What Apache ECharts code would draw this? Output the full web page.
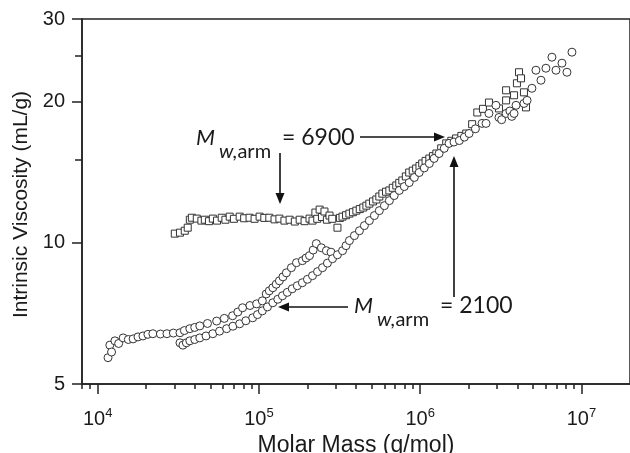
<!DOCTYPE html>
<html><head><meta charset="utf-8">
<script src="https://cdn.jsdelivr.net/npm/echarts@6/dist/echarts.min.js"></script>
<style>html,body{margin:0;padding:0;background:#fff}#c{width:630px;height:453px}</style>
</head><body><div id="c"></div>
<script>
const xMajorTicks = [1e4, 1e5, 1e6, 1e7];
const xMinorTicks = [8e3, 9e3, 2e4, 3e4, 4e4, 5e4, 6e4, 7e4, 8e4, 9e4, 2e5, 3e5, 4e5, 5e5, 6e5, 7e5, 8e5, 9e5,
  2e6, 3e6, 4e6, 5e6, 6e6, 7e6, 8e6, 9e6];
const yMajorTicks = [5, 10, 20, 30];
const yMinorTicks = [15, 25];

// Mw,arm = 2100 (circles)
const arm2100Mass = [1.16e4, 1.19e4, 1.22e4, 1.28e4, 1.35e4, 1.44e4, 1.55e4, 1.66e4, 1.78e4, 1.91e4, 2.05e4, 2.20e4,
  2.45e4, 2.69e4, 2.95e4, 3.24e4, 3.45e4, 3.73e4, 4.0e4, 4.3e4, 4.8e4, 5.47e4, 6.1e4, 6.87e4, 7.4e4, 7.92e4, 8.8e4,
  9.68e4, 1.05e5, 1.11e5, 1.16e5, 1.22e5, 1.28e5, 1.34e5, 1.41e5, 1.48e5, 1.59e5, 1.71e5, 1.86e5, 1.96e5, 2.06e5,
  2.17e5, 2.27e5, 2.44e5, 2.62e5, 2.8e5,
  3.24e4, 3.38e4, 3.55e4, 3.73e4, 4.0e4, 4.3e4, 4.7e4, 5.18e4, 5.7e4, 6.31e4, 6.9e4, 7.6e4, 8.3e4, 9.15e4, 9.8e4,
  1.05e5, 1.13e5, 1.22e5, 1.31e5, 1.40e5, 1.50e5, 1.61e5, 1.73e5, 1.86e5, 2.0e5, 2.15e5, 2.31e5, 2.48e5, 2.66e5,
  2.86e5, 3.07e5, 3.30e5, 3.47e5, 3.64e5, 3.91e5, 4.20e5, 4.51e5, 4.84e5, 5.2e5, 5.58e5, 6.0e5, 6.44e5, 6.9e5,
  7.42e5, 7.97e5, 8.55e5, 9.2e5, 9.86e5, 1.06e6, 1.14e6, 1.22e6, 1.31e6, 1.41e6, 1.51e6, 1.62e6, 1.75e6, 1.88e6,
  2.01e6, 2.2e6, 2.42e6, 2.56e6, 2.67e6, 2.95e6, 3.08e6, 3.2e6, 3.41e6, 3.6e6, 3.7e6, 3.82e6, 3.93e6, 4.4e6, 4.6e6,
  4.93e6, 5.22e6, 5.61e6, 6.02e6, 6.56e6, 6.95e6, 7.57e6, 8.13e6, 8.73e6];
const arm2100Visc = [5.69, 6.05, 5.85, 6.18, 6.10, 6.27, 6.22, 6.24, 6.30, 6.33, 6.38, 6.40,
  6.39, 6.40, 6.42, 6.43, 6.50, 6.56, 6.60, 6.65, 6.73, 6.81, 6.90, 6.99, 7.12, 7.27, 7.35,
  7.41, 7.52, 7.78, 7.90, 8.02, 8.16, 8.30, 8.46, 8.63, 8.85, 9.07, 9.16, 9.28, 9.39,
  9.65, 9.96, 9.76, 9.62, 9.55,
  6.12, 6.05, 6.12, 6.18, 6.22, 6.27, 6.33, 6.40, 6.48, 6.56, 6.64, 6.72, 6.82, 6.92, 7.03,
  7.16, 7.30, 7.45, 7.58, 7.71, 7.84, 7.98, 8.10, 8.22, 8.36, 8.51, 8.68, 8.85, 9.05,
  9.25, 9.43, 9.62, 9.86, 10.11, 10.36, 10.61, 10.88, 11.15, 11.43, 11.71, 12.0, 12.30, 12.61,
  12.93, 13.18, 13.44, 13.78, 14.12, 14.44, 14.76, 15.13, 15.50, 15.90, 16.29, 16.40, 16.52, 16.80,
  17.10, 17.50, 17.97, 17.97, 18.87, 19.64, 18.50, 18.30, 18.87, 19.10, 18.60, 18.87, 19.64, 19.82, 20.12,
  21.35, 23.33, 22.21, 23.56, 24.87, 23.33, 24.15, 23.10, 25.49];

// Mw,arm = 6900 (squares)
const arm6900Mass = [3.01e4, 3.24e4, 3.47e4, 3.62e4, 3.73e4, 3.84e4, 4.12e4, 4.4e4, 4.62e4, 4.9e4, 5.18e4, 5.5e4,
  5.88e4, 6.2e4, 6.59e4, 7.0e4, 7.6e4, 8.1e4, 8.75e4, 9.4e4, 1.01e5, 1.08e5, 1.16e5, 1.25e5, 1.34e5, 1.44e5,
  1.55e5, 1.67e5, 1.79e5, 1.92e5, 2.06e5, 2.15e5, 2.24e5, 2.3e5, 2.38e5, 2.46e5, 2.55e5, 2.64e5, 2.74e5, 2.85e5,
  3.07e5, 3.18e5, 3.30e5, 3.47e5, 3.64e5, 3.83e5, 4.02e5, 4.22e5, 4.44e5, 4.64e5, 4.84e5, 5.1e5, 5.35e5, 5.58e5,
  5.83e5, 6.14e5, 6.44e5, 6.76e5, 7.11e5, 7.42e5, 7.75e5, 8.15e5, 8.55e5, 8.99e5, 9.44e5, 9.9e5, 1.03e6, 1.08e6,
  1.14e6, 1.20e6, 1.26e6, 1.35e6, 1.45e6, 1.56e6, 1.67e6, 1.80e6, 1.93e6, 2.1e6, 2.26e6, 2.45e6, 2.67e6, 3.08e6,
  3.41e6, 3.41e6, 3.82e6, 3.98e6, 4.10e6, 4.22e6, 4.40e6, 4.53e6];
const arm6900Visc = [10.46, 10.51, 10.61, 10.77, 11.20, 11.31, 11.26, 11.15, 11.20, 11.12, 11.26, 11.15,
  11.31, 11.20, 11.37, 11.25, 11.37, 11.28, 11.31, 11.25, 11.37, 11.30, 11.31, 11.22, 11.26, 11.15,
  11.20, 11.10, 11.20, 11.12, 11.26, 11.15, 11.60, 11.25, 11.77, 11.35, 11.66, 11.20, 11.43, 11.25,
  10.77, 11.30, 11.37, 11.45, 11.54, 11.62, 11.71, 11.80, 11.89, 12.0, 12.12, 12.25, 12.37, 12.55,
  12.73, 12.85, 12.93, 13.10, 13.25, 13.42, 13.58, 13.85, 14.12, 14.25, 14.40, 14.58, 14.76, 14.95,
  15.12, 15.30, 15.50, 15.90, 16.29, 16.50, 16.69, 16.90, 17.10, 17.90, 18.96, 19.30, 19.91, 19.34,
  21.14, 20.12, 20.63, 21.88, 23.10, 22.42, 20.93, 19.44];

const zip = (a, b) => a.map((v, i) => [v, b[i]]);

const AX = '#222';
const TXT = '#1a1a1a';
const FONT = '"Liberation Sans", Arial, sans-serif';
const AFONT = 'Lato, "Open Sans", sans-serif';

function arrow(x1, y1, x2, y2) {
  const dx = x2 - x1, dy = y2 - y1, L = Math.hypot(dx, dy), ux = dx / L, uy = dy / L;
  const h = 11, w = 4.5;
  const bx = x2 - ux * h, by = y2 - uy * h;
  return [
    { type: 'line', shape: { x1: x1, y1: y1, x2: bx + ux * 2, y2: by + uy * 2 }, style: { stroke: '#111', lineWidth: 1.6 } },
    { type: 'polygon', shape: { points: [[x2, y2], [bx - uy * w, by + ux * w], [bx + uy * w, by - ux * w]] }, style: { fill: '#111' } }
  ];
}
function label(x, y, value) {
  return [
    { type: 'text', x: x, y: y, style: { text: 'M', font: 'italic 22px ' + AFONT, fill: TXT, textVerticalAlign: 'middle' } },
    { type: 'text', x: x + 23, y: y + 14, style: { text: '{i|w,}{n|arm}', fill: TXT, textVerticalAlign: 'middle',
        rich: { i: { fontFamily: AFONT, fontStyle: 'italic', fontSize: 20, color: TXT }, n: { fontFamily: AFONT, fontSize: 20, color: TXT } } } },
    { type: 'text', x: x + 86, y: y, style: { text: '= ' + value, font: '23px ' + AFONT, fill: TXT, textVerticalAlign: 'middle' } }
  ];
}

const chart = echarts.init(document.getElementById('c'), null, { renderer: 'canvas' });
const xBase = { type: 'log', logBase: 10, min: 8000, max: 2e7, splitLine: { show: false } };
const yBase = { type: 'log', logBase: 10, min: 5, max: 30, splitLine: { show: false } };

chart.setOption({
  animation: false,
  backgroundColor: '#fff',
  grid: { left: 82, right: 0, top: 19, bottom: 69, containLabel: false, outerBoundsMode: 'none',
    show: true, borderColor: AX, borderWidth: 1.5, backgroundColor: 'transparent' },
  xAxis: [
    Object.assign({}, xBase, {
      position: 'bottom',
      name: 'Molar Mass (g/mol)', nameLocation: 'middle', nameGap: 50,
      nameTextStyle: { fontFamily: FONT, fontSize: 23, color: TXT },
      axisLine: { show: true, lineStyle: { color: AX, width: 1.5 } },
      axisTick: { show: true, inside: false, length: 10, customValues: xMajorTicks, lineStyle: { color: AX, width: 1.5 } },
      axisLabel: { show: true, customValues: xMajorTicks, margin: 23,
        formatter: v => '{b|10}{s|' + Math.round(Math.log10(v)) + '}',
        rich: { b: { fontFamily: FONT, fontSize: 20, color: TXT }, s: { fontFamily: FONT, fontSize: 13, color: TXT, padding: [0, 0, 12, 0] } } }
    }),
    Object.assign({}, xBase, {
      position: 'bottom',
      axisLine: { show: false }, axisLabel: { show: false },
      axisTick: { show: true, inside: false, length: 5, customValues: xMinorTicks, lineStyle: { color: AX, width: 1.5 } }
    })
  ],
  yAxis: [
    Object.assign({}, yBase, {
      position: 'left',
      name: 'Intrinsic Viscosity (mL/g)', nameLocation: 'middle', nameGap: 49,
      nameTextStyle: { fontFamily: FONT, fontSize: 21, color: TXT, padding: [0, 0, 0, -6] },
      axisLine: { show: true, lineStyle: { color: AX, width: 1.5 } },
      axisTick: { show: true, inside: false, length: 10, customValues: yMajorTicks, lineStyle: { color: AX, width: 1.5 } },
      axisLabel: { show: true, customValues: yMajorTicks, margin: 17, fontFamily: FONT, fontSize: 20, color: TXT }
    }),
    Object.assign({}, yBase, {
      position: 'left',
      axisLine: { show: false }, axisLabel: { show: false },
      axisTick: { show: true, inside: false, length: 7, customValues: yMinorTicks, lineStyle: { color: AX, width: 1.5 } }
    })
  ],
  series: [
    { name: 'Mw,arm = 6900', type: 'scatter', xAxisIndex: 0, yAxisIndex: 0, symbol: 'rect', symbolSize: 7,
      itemStyle: { color: '#fff', borderColor: '#333', borderWidth: 1, opacity: 1 },
      data: zip(arm6900Mass, arm6900Visc) },
    { name: 'Mw,arm = 2100', type: 'scatter', xAxisIndex: 0, yAxisIndex: 0, symbol: 'circle', symbolSize: 8,
      itemStyle: { color: '#fff', borderColor: '#333', borderWidth: 1, opacity: 1 },
      data: zip(arm2100Mass, arm2100Visc) }
  ],
  graphic: [].concat(
    label(196, 138, '6900'),
    arrow(360, 137, 445, 137),
    arrow(280, 153, 280, 204),
    label(354, 306, '2100'),
    arrow(348, 307, 278, 307),
    arrow(454, 297, 454, 156)
  )
});
</script>
</body></html>
